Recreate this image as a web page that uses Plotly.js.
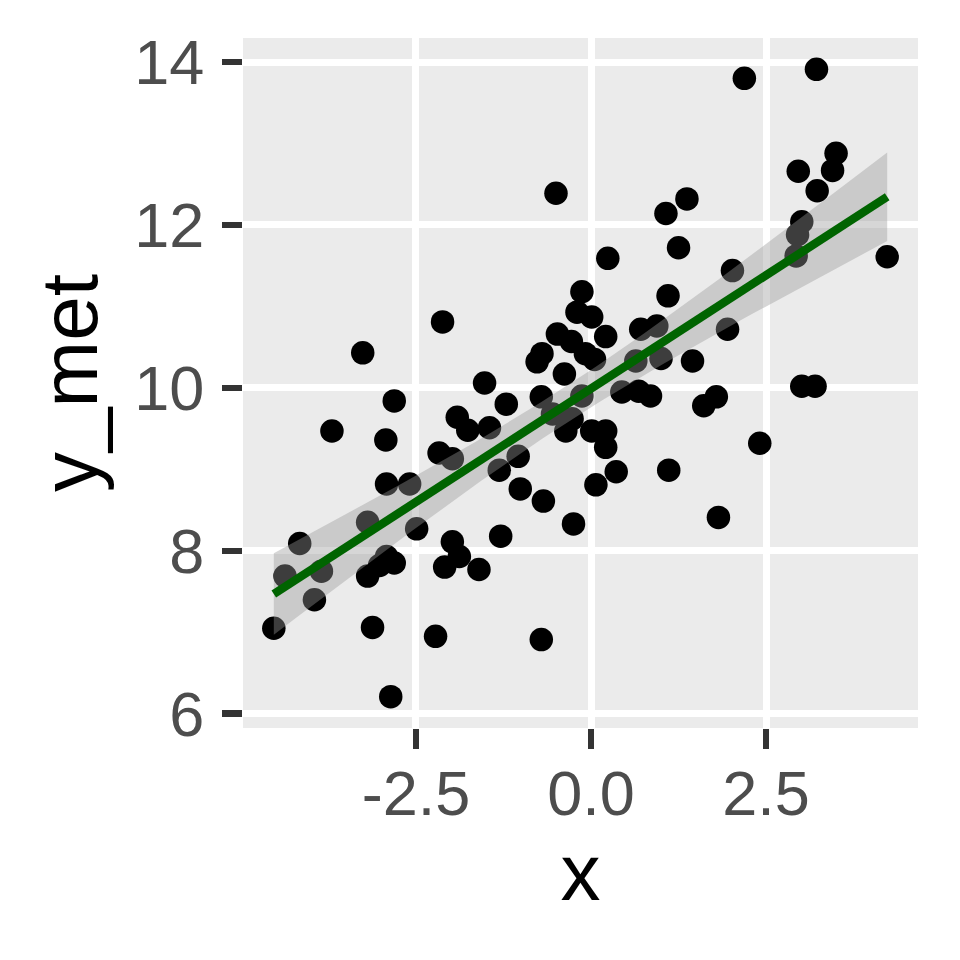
<!DOCTYPE html>
<html>
<head>
<meta charset="utf-8">
<script src="https://cdn.plot.ly/plotly-3.0.1.min.js"></script>
<style>html,body{margin:0;padding:0;background:#fff;}#chart{width:960px;height:960px;}</style>
</head>
<body>
<div id="chart"></div>
<script>
const xVals = [-4.53,-4.37,-4.16,-3.95,-3.85,-3.70,-3.26,-3.19,-3.19,-3.12,-3.02,-2.93,-2.92,-2.92,-2.86,-2.81,-2.81,-2.59,-2.49,-2.22,
  -2.17,-2.12,-2.09,-1.98,-1.98,-1.91,-1.88,-1.76,-1.60,-1.52,-1.45,-1.31,-1.29,-1.21,-1.04,-1.01,-0.77,-0.70,-0.71,-0.71,
  -0.68,-0.55,-0.50,-0.48,-0.38,-0.36,-0.28,-0.27,-0.25,-0.20,-0.13,-0.13,-0.08,0.05,0.01,0.01,0.07,0.21,0.21,0.21,
  0.24,0.36,0.44,0.64,0.68,0.71,0.85,0.94,1.00,1.07,1.10,1.11,1.25,1.37,1.45,1.61,1.79,1.82,1.95,2.02,
  2.19,2.41,2.93,2.95,2.96,3.01,3.01,3.20,3.22,3.23,3.45,3.50,4.23];
const yVals = [7.05,7.69,8.09,7.40,7.75,9.47,10.43,8.35,7.69,7.06,7.82,9.36,8.82,7.93,6.21,9.84,7.85,8.82,8.27,6.95,
  9.20,10.81,7.80,9.13,8.11,9.64,7.93,9.48,7.77,10.06,9.51,8.99,8.18,9.80,9.16,8.76,10.32,10.42,9.89,6.91,
  8.61,9.68,12.39,10.66,10.17,9.47,10.57,9.62,8.33,10.93,11.18,9.90,10.42,10.35,10.87,9.47,8.81,10.63,9.47,9.27,
  11.59,8.97,9.95,10.33,9.96,10.72,9.90,10.76,10.36,12.14,11.13,8.99,11.72,12.32,10.33,9.78,9.89,8.41,10.72,11.44,
  13.80,9.32,11.62,11.88,12.66,12.04,10.02,10.02,13.91,12.42,12.67,12.88,11.61];
const xTicks = [-2.5, 0, 2.5];
const xTickLabels = ['-2.5', '0.0', '2.5'];
const yTicks = [6, 8, 10, 12, 14];
const yTickLabels = ['6', '8', '10', '12', '14'];

// linear fit with 95% confidence band (as geom_smooth(method = "lm"))
const n = xVals.length;
const mx = xVals.reduce((a, b) => a + b, 0) / n;
const my = yVals.reduce((a, b) => a + b, 0) / n;
let sxx = 0, sxy = 0;
for (let i = 0; i < n; i++) { sxx += (xVals[i] - mx) ** 2; sxy += (xVals[i] - mx) * (yVals[i] - my); }
const slope = sxy / sxx, icpt = my - slope * mx;
let sse = 0;
for (let i = 0; i < n; i++) { sse += (yVals[i] - icpt - slope * xVals[i]) ** 2; }
const sigma = Math.sqrt(sse / (n - 2));
const tq = 1.986;
const xmin = Math.min(...xVals), xmax = Math.max(...xVals);
const fx = [], fy = [], lo = [], hi = [];
for (let k = 0; k <= 80; k++) {
  const xv = xmin + (xmax - xmin) * k / 80;
  const yv = icpt + slope * xv;
  const se = sigma * Math.sqrt(1 / n + (xv - mx) ** 2 / sxx);
  fx.push(xv); fy.push(yv); lo.push(yv - tq * se); hi.push(yv + tq * se);
}

const traces = [
  {x: xVals, y: yVals, type: 'scatter', mode: 'markers', marker: {color: '#000000', size: 23.5}, hoverinfo: 'skip'},
  {x: fx.concat(fx.slice().reverse()), y: hi.concat(lo.slice().reverse()), type: 'scatter', mode: 'lines',
   fill: 'toself', fillcolor: 'rgba(153,153,153,0.4)', line: {width: 0}, hoverinfo: 'skip'},
  {x: fx, y: fy, type: 'scatter', mode: 'lines', line: {color: '#006400', width: 8.5}, hoverinfo: 'skip'}
];

const FONT = 'Liberation Sans, Arial, sans-serif';
const axisCommon = {
  showgrid: true, gridcolor: '#FFFFFF', gridwidth: 7, zeroline: false, showline: false,
  ticks: 'outside', ticklen: 20, tickwidth: 6.5, tickcolor: '#333333',
  tickfont: {family: FONT, size: 63, color: '#4D4D4D'},
  tickmode: 'array'
};

const layout = {
  width: 960, height: 960,
  margin: {l: 243, r: 42, t: 38, b: 232},
  paper_bgcolor: '#FFFFFF', plot_bgcolor: '#EBEBEB',
  showlegend: false,
  xaxis: Object.assign({}, axisCommon, {
    range: [-4.97, 4.67], tickvals: xTicks, ticktext: xTickLabels, ticklabelstandoff: -10,
    title: {text: 'x', font: {family: FONT, size: 80, color: '#000000'}, standoff: 17}
  }),
  yaxis: Object.assign({}, axisCommon, {
    range: [5.825, 14.295], tickvals: yTicks, ticktext: yTickLabels, ticklabelstandoff: 5,
    title: {text: 'y_met', font: {family: FONT, size: 80, color: '#000000'}, standoff: 10}
  })
};

Plotly.newPlot('chart', traces, layout, {staticPlot: true, displayModeBar: false});
</script>
</body>
</html>
